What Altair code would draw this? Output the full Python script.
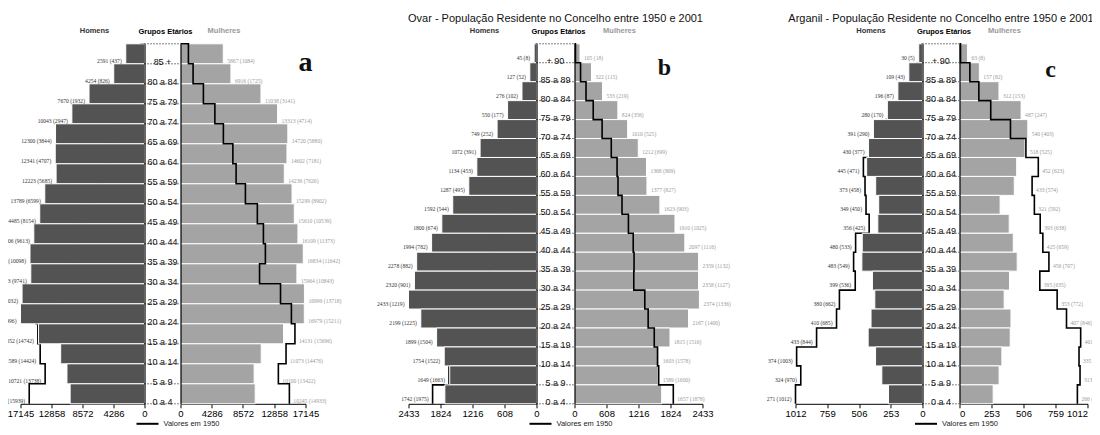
import altair as alt
import pandas as pd

# ---------------- data ----------------
ages_a = ["85 +", "80 a 84", "75 a 79", "70 a 74", "65 a 69", "60 a 64", "55 a 59",
          "50 a 54", "45 a 49", "40 a 44", "35 a 39", "30 a 34", "25 a 29", "20 a 24",
          "15 a 19", "10 a 14", "5 a 9", "0 a 4"]
men2001_a = [2591, 4254, 7670, 10043, 12300, 12341, 12223, 13789, 14485, 15306, 15832,
             15723, 16930, 17145, 14652, 11589, 10721, 10281]
men1950_a = [437, 826, 1932, 2947, 3844, 4707, 5685, 6599, 8154, 9613, 10098, 9741,
             12032, 14996, 14742, 14424, 13738, 15939]
women2001_a = [5867, 6916, 11038, 13313, 14720, 14602, 14236, 15299, 15610, 16109, 16834,
               15964, 16999, 16979, 14131, 11073, 10100, 10245]
women1950_a = [1084, 1725, 3141, 4714, 5880, 7181, 7626, 8902, 10539, 11373, 11642, 10843,
               13718, 15211, 15696, 14476, 13422, 14933]
ticks_a = [0, 4286, 8572, 12858, 17145]

ages_bc = ["+ 90", "85 a 89", "80 a 84", "75 a 79", "70 a 74", "65 a 69", "60 a 64",
           "55 a 59", "50 a 54", "45 a 49", "40 a 44", "35 a 39", "30 a 34", "25 a 29",
           "20 a 24", "15 a 19", "10 a 14", "5 a 9", "0 a 4"]

title_b = "Ovar - População Residente no Concelho entre 1950 e 2001"
men2001_b = [45, 127, 276, 550, 749, 1072, 1134, 1287, 1592, 1800, 1994, 2278, 2320, 2433,
             2199, 1899, 1754, 1649, 1742]
men1950_b = [8, 52, 102, 177, 252, 391, 453, 495, 544, 674, 782, 882, 901, 1219, 1225,
             1504, 1522, 1663, 1975]
women2001_b = [105, 322, 533, 824, 1010, 1212, 1368, 1377, 1623, 1910, 2097, 2359, 2358,
               2374, 2167, 1815, 1603, 1589, 1657]
women1950_b = [18, 115, 219, 356, 525, 699, 809, 827, 903, 1025, 1116, 1132, 1127, 1336,
               1400, 1516, 1578, 1600, 1878]
ticks_b = [0, 608, 1216, 1824, 2433]

title_c = "Arganil - População Residente no Concelho entre 1950 e 2001"
men2001_c = [30, 109, 196, 280, 391, 430, 445, 373, 349, 356, 480, 483, 399, 380, 410, 433,
             374, 324, 271]
men1950_c = [5, 43, 87, 170, 290, 377, 471, 458, 450, 425, 533, 549, 536, 662, 685, 844,
             1003, 970, 1012]
women2001_c = [63, 157, 312, 487, 540, 518, 452, 433, 321, 393, 425, 456, 395, 353, 407,
               401, 335, 313, 266]
women1950_c = [8, 82, 153, 247, 403, 525, 623, 574, 592, 638, 659, 707, 635, 772, 846, 958,
               945, 953, 932]
ticks_c = [0, 253, 506, 759, 1012]

header_men = "Homens"
header_mid = "Grupos Etários"
header_women = "Mulheres"
legend_text = "Valores em 1950"

# ---------------- style ----------------
SANS = "Liberation Sans, Arial, sans-serif"
SERIF = "Liberation Serif, Times New Roman, serif"
MEN_C = "#535353"
WOM_C = "#a4a4a4"
H = 360


def side_chart(ages, v01, v50, ticks, width, men, title_text, title_color, title_dx,
               lab_dy, letter=None, letter_x=0, letter_y=0, letter_size=24, flush=False):
    n = len(ages)
    maxv = ticks[-1]
    rows = pd.DataFrame({"age": ages, "v01": v01, "v50": v50})
    rows["top"] = list(range(n))
    rows["bottom"] = rows["top"] + 1
    rows["zero"] = 0
    rows["lab"] = [f"{a} ({b})" for a, b in zip(v01, v50)]
    rows["lpos"] = [max(a, b) for a, b in zip(v01, v50)]
    pv, py = [0], [0]
    for i, v in enumerate(v50):
        pv += [v, v]
        py += [i, i + 1]
    step = pd.DataFrame({"v": pv, "yy": py, "seq": list(range(len(pv)))})

    xs = alt.Scale(domain=[0, maxv], reverse=men, nice=False)
    ys = alt.Scale(domain=[0, n], reverse=True, nice=False)
    xaxis = alt.Axis(values=ticks, format="d", title="", grid=False, labelFont=SANS,
                     labelFontSize=9.5, labelColor="#000", domainColor="#000",
                     tickColor="#000", tickSize=4, labelPadding=1, labelFlush=flush,
                     labelOverlap=False)
    yaxis = alt.Axis(orient="right" if men else "left", title="", grid=False, ticks=False,
                     labels=False, domainColor="#000", domainWidth=1.2, zindex=1)
    bars = alt.Chart(rows).mark_rect(color=MEN_C if men else WOM_C, stroke="white",
                                     strokeWidth=1).encode(
        x=alt.X("v01:Q", scale=xs, axis=xaxis), x2=alt.X2("zero"),
        y=alt.Y("top:Q", scale=ys, axis=yaxis), y2=alt.Y2("bottom"))
    line = alt.Chart(step).mark_line(color="#000", strokeWidth=1.6).encode(
        x=alt.X("v:Q", scale=xs, axis=xaxis), y=alt.Y("yy:Q", scale=ys, axis=yaxis),
        order="seq:Q")
    labels = alt.Chart(rows).mark_text(
        align="right" if men else "left", baseline="middle", dx=-4 if men else 4,
        dy=lab_dy, font=SERIF, fontSize=5.6, color="#333" if men else "#999").encode(
        x=alt.X("lpos:Q", scale=xs, axis=xaxis), y=alt.Y("bottom:Q", scale=ys, axis=yaxis),
        text="lab:N")
    layers = [line, bars, labels] if men else [bars, line, labels]
    if letter:
        lt = alt.Chart(pd.DataFrame({"t": [letter]})).mark_text(
            font=SERIF, fontWeight="bold", fontSize=letter_size, align="center",
            baseline="middle", color="#111").encode(
            x=alt.value(letter_x), y=alt.value(letter_y), text="t:N")
        layers.append(lt)
    return alt.layer(*layers).properties(
        width=width, height=H,
        title=alt.TitleParams(title_text, fontSize=7.5, fontWeight="bold",
                              color=title_color, dx=title_dx, offset=6, font=SANS))


def center_chart(ages, width, panel_title):
    n = len(ages)
    df = pd.DataFrame({"age": ages, "bottom": list(range(1, n + 1))})
    bd = pd.DataFrame({"b": list(range(0, n + 1))})
    ys = alt.Scale(domain=[0, n], reverse=True, nice=False)
    dots = alt.Chart(bd).mark_rule(strokeDash=[1, 2], color="#000", strokeWidth=1).encode(
        y=alt.Y("b:Q", scale=ys, axis=None), x=alt.value(0), x2=alt.value(width))
    text = alt.Chart(df).mark_text(baseline="alphabetic", dy=1, font=SANS, fontSize=9,
                                   color="#111").encode(
        y=alt.Y("bottom:Q", scale=ys, axis=None), x=alt.value(width / 2), text="age:N")
    leg = pd.DataFrame({"t": [legend_text]})
    leg_line = alt.Chart(leg).mark_rule(color="#000", strokeWidth=2).encode(
        x=alt.value(width / 2 - 26), x2=alt.value(width / 2 - 4), y=alt.value(H + 20))
    leg_text = alt.Chart(leg).mark_text(align="left", baseline="middle", font=SANS,
                                        fontSize=7.5, color="#222").encode(
        x=alt.value(width / 2 + 1), y=alt.value(H + 20), text="t:N")
    head = alt.Chart(pd.DataFrame({"t": [header_mid]})).mark_text(
        align="center", baseline="middle", font=SANS, fontSize=7.5, fontWeight="bold",
        color="#000").encode(x=alt.value(width / 2 + 3), y=alt.value(-11.5), text="t:N")
    layers = [dots, text, leg_line, leg_text, head]
    if panel_title:
        tt = alt.Chart(pd.DataFrame({"t": [panel_title]})).mark_text(
            align="center", baseline="middle", font=SANS, fontSize=11, color="#111").encode(
            x=alt.value(width / 2), y=alt.value(-25), text="t:N")
        layers.append(tt)
    return alt.layer(*layers).properties(width=width, height=H)


def panel(ages, m01, m50, w01, w50, ticks, wm, wc, ww, letter, lx, ly, lsize, lab_dy,
          title=None, flush=False):
    men = side_chart(ages, m01, m50, ticks, wm, True, header_men, "#333", 12, lab_dy)
    cen = center_chart(ages, wc, title)
    wom = side_chart(ages, w01, w50, ticks, ww, False, header_women, "#999", -19, lab_dy,
                     letter, lx, ly, lsize, flush)
    return [men, cen, wom]


def spacer(w):
    return alt.Chart(pd.DataFrame({"k": [0]})).mark_point(opacity=0).properties(
        width=w, height=H)


pa = panel(ages_a, men2001_a, men1950_a, women2001_a, women1950_a, ticks_a,
           124, 36, 125, "a", 125, 19, 28, -2.5)
pb = panel(ages_bc, men2001_b, men1950_b, women2001_b, women1950_b, ticks_b,
           128, 38, 128, "b", 90, 24, 24, -5, title_b)
pc = panel(ages_bc, men2001_c, men1950_c, women2001_c, women1950_c, ticks_c,
           127, 37, 128, "c", 91, 26, 24, -5, title_c, True)

chart = alt.hconcat(*pa, spacer(103), *pb, spacer(93), *pc, spacing=0,
                    bounds="flush").properties(
    padding={"left": -25.5, "top": 4.8, "right": -16, "bottom": -1}
).configure(background="white").configure_view(strokeWidth=0, strokeOpacity=0)

chart.save("out.html", embed_options={"renderer": "svg", "actions": False})
